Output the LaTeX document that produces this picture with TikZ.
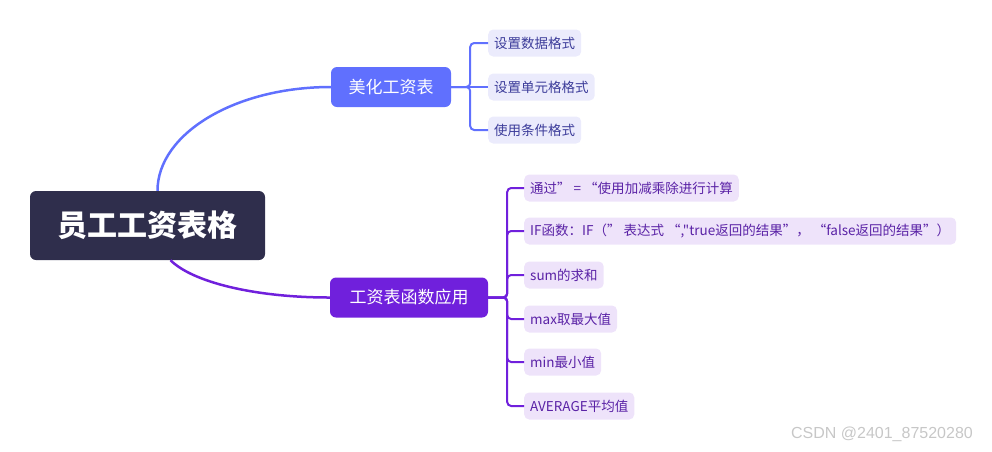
\documentclass[tikz,border=0pt]{standalone}
\usepackage{fontspec}
\setmainfont{Noto Sans CJK SC}
\newfontfamily\plainfont{Noto Sans CJK SC}
\newfontfamily\markfont{Liberation Sans}
\definecolor{rootc}{HTML}{2F2E4C}
\definecolor{bluec}{HTML}{6070FE}
\definecolor{purplec}{HTML}{7020DC}
\definecolor{bluelight}{HTML}{EBEBFC}
\definecolor{purplelight}{HTML}{EEE3FA}
\definecolor{bluetext}{HTML}{3C3C9A}
\definecolor{purpletext}{HTML}{5A22A6}

\begin{document}
\begin{tikzpicture}[x=1pt, y=-1pt,
  rootbox/.style={fill=rootc, text=white, rounded corners=6pt, inner sep=0pt,
    font=\fontsize{30}{34}\selectfont\bfseries, minimum height=69pt, minimum width=235pt},
  midbox/.style={rounded corners=6pt, text=white, inner sep=0pt,
    font=\fontsize{17}{20}\selectfont, minimum height=40pt},
  leafbox/.style={rounded corners=5pt, anchor=west, inner xsep=6pt, inner ysep=0pt,
    font=\plainfont\fontsize{13.5}{16}\selectfont, minimum height=27pt},
  link/.style={line width=2pt, rounded corners=4pt}]
\useasboundingbox (0,0) rectangle (992,451);
% Main topics
\node[rootbox] (root) at (147.5,225.5) {员工工资表格};
\node[midbox, fill=bluec, minimum width=120pt] (beauty) at (391,87) {美化工资表};
\node[midbox, fill=purplec, minimum width=158pt] (func) at (409,297.5) {工资表函数应用};
% Branches from the root
\draw[bluec, line width=2.5pt] ([xshift=10pt]root.north) .. controls +(0,-57) and +(-96,0) .. (beauty.west);
\draw[purplec, line width=2.5pt] ([xshift=23pt]root.south) .. controls +(22,22) and +(-75,0) .. (func.west);
% Leaves of the first topic
\foreach \i/\yy/\lab in {1/43/设置数据格式, 2/87/设置单元格格式, 3/130/使用条件格式} {
    \node[leafbox, fill=bluelight, text=bluetext] (b\i) at (488,\yy) {\lab};
    \ifnum\i=2
        \draw[link, bluec] (beauty.east) -- (b\i.west);
    \else
        \draw[link, bluec] (beauty.east) -- ++(19,0) |- (b\i.west);
    \fi
}
% Leaves of the second topic
\foreach \i/\yy/\lab in {1/188/{通过” = “使用加减乘除进行计算}, 2/231/{IF函数：IF（” 表达式 “,"true返回的结果”， “false返回的结果”）}, 3/275/sum的求和, 4/319/max取最大值, 5/362/min最小值, 6/406/AVERAGE平均值} {
    \node[leafbox, fill=purplelight, text=purpletext] (f\i) at (524,\yy) {\lab};
    \draw[link, purplec] (func.east) -- ++(19,0) |- (f\i.west);
}
% Mark
\node[text=black!22, font=\markfont\fontsize{16}{18}\selectfont] (mark) at (882,434) {CSDN @2401\_87520280};
\end{tikzpicture}
\end{document}
